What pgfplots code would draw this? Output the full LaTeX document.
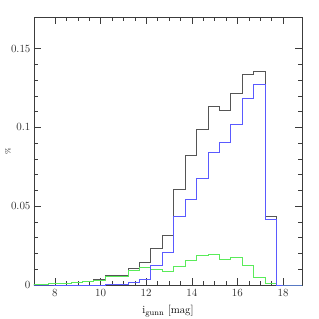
\documentclass[border=0pt]{standalone}
\usepackage{pgfplots}
\pgfplotsset{compat=1.18}
\usepackage{pgfplotstable}
\definecolor{cblack}{RGB}{85,85,85}
\definecolor{cblue}{RGB}{90,90,255}
\definecolor{cgreen}{RGB}{90,235,90}
\definecolor{cframe}{RGB}{60,60,60}
\pgfplotstableread{
x tot blue green
6.7 0.0003 0.0000 0.0003
7.2 0.0005 0.0000 0.0005
7.7 0.0008 0.0000 0.0008
8.2 0.0012 0.0001 0.0011
8.7 0.0016 0.0001 0.0015
9.2 0.0024 0.0001 0.0023
9.7 0.0034 0.0001 0.0032
10.2 0.0063 0.0002 0.0058
10.7 0.0062 0.0004 0.0058
11.2 0.0106 0.0015 0.0096
11.7 0.0143 0.0036 0.0112
12.2 0.0232 0.0127 0.0098
12.7 0.0318 0.0205 0.0085
13.2 0.0608 0.0438 0.0116
13.7 0.0820 0.0542 0.0159
14.2 0.0987 0.0678 0.0191
14.7 0.1135 0.0841 0.0197
15.2 0.1110 0.0904 0.0165
15.7 0.1218 0.1021 0.0176
16.2 0.1338 0.1186 0.0125
16.7 0.1353 0.1275 0.0051
17.2 0.0438 0.0417 0.0011
17.7 0 0 0
18.2 0 0 0
18.7 0 0 0
19.2 0 0 0
}\histdata
\begin{document}
\begin{tikzpicture}
\useasboundingbox (-34pt,-34pt) rectangle (285pt,285pt);
\begin{axis}[
  scale only axis,
  width=268pt, height=268pt,
  at={(0,0)}, anchor=south west,
  xmin=7.08, xmax=18.83,
  ymin=0, ymax=0.17,
  xtick={8,10,12,14,16,18},
  minor x tick num=3,
  ytick={0,0.05,0.1,0.15},
  minor y tick num=4,
  yticklabel style={/pgf/number format/fixed, /pgf/number format/precision=2},
  scaled y ticks=false,
  tick align=inside,
  xtick pos=both, ytick pos=both,
  major tick length=7pt,
  minor tick length=4pt,
  axis line style={cframe, line width=0.7pt},
  every tick/.style={cframe, line width=0.5pt},
  tick label style={font=\fontsize{11}{13}\selectfont, text=black!80},
  xticklabel style={yshift=-1pt},
  xlabel={i$_{\mathrm{gunn}}$ [mag]},
  xlabel style={font=\fontsize{11}{13}\selectfont, at={(0.5,-0.062)}, anchor=north},
  ylabel={\%},
  ylabel style={font=\fontsize{7}{8}\selectfont, at={(-0.097,0.5)}, anchor=center},
]
\addplot[const plot, cblack, line width=0.6pt] table[x=x, y=tot] {\histdata};
\addplot[const plot, cgreen, line width=0.6pt] table[x=x, y=green] {\histdata};
\addplot[const plot, cblue, line width=0.6pt] table[x=x, y=blue] {\histdata};
\end{axis}
\end{tikzpicture}
\end{document}
